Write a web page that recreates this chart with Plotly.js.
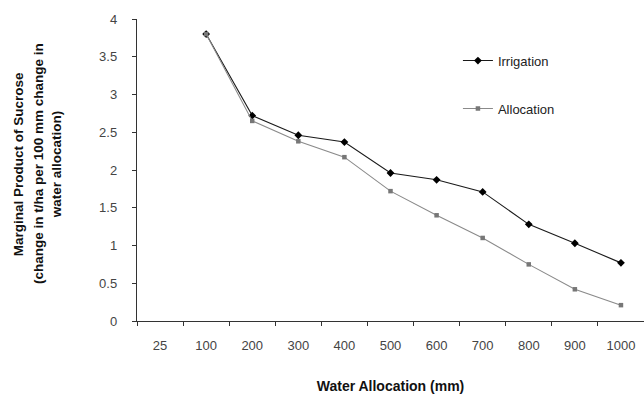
<!DOCTYPE html>
<html>
<head>
<meta charset="utf-8">
<script src="https://cdn.plot.ly/plotly-3.0.1.min.js"></script>
<style>html,body{margin:0;padding:0;background:#fff;}#chart{width:644px;height:401px;}</style>
</head>
<body>
<div id="chart"></div>
<script>
var categories = ["25", "100", "200", "300", "400", "500", "600", "700", "800", "900", "1000"];
var irrigationX = ["100", "200", "300", "400", "500", "600", "700", "800", "900", "1000"];
var irrigation = [3.80, 2.72, 2.46, 2.37, 1.96, 1.87, 1.71, 1.28, 1.03, 0.77];
var allocationX = ["100", "200", "300", "400", "500", "600", "700", "800", "900", "1000"];
var allocation = [3.80, 2.65, 2.38, 2.17, 1.72, 1.40, 1.10, 0.75, 0.42, 0.21];
var yTicks = [0, 0.5, 1, 1.5, 2, 2.5, 3, 3.5, 4];
var yTitleLines = ["Marginal Product of Sucrose", "(change in t/ha per 100 mm change in", "water allocation)"];

var font = "Liberation Sans, Arial, sans-serif";

var traces = [
  {
    x: irrigationX, y: irrigation, name: "Irrigation", type: "scatter", mode: "lines+markers",
    line: {color: "#1a1a1a", width: 1.1},
    marker: {symbol: "diamond", size: 6, color: "#000000"},
    legendgroup: "a"
  },
  {
    x: allocationX, y: allocation, name: "Allocation", type: "scatter", mode: "lines+markers",
    line: {color: "#8a8a8a", width: 1.1},
    marker: {symbol: "square", size: 4.5, color: "#777777"},
    legendgroup: "b"
  }
];

var titleX = [-0.232, -0.193, -0.157];
var annotations = yTitleLines.map(function (t, i) {
  return {
    xref: "paper", yref: "paper",
    x: titleX[i], y: 0.52, xanchor: "center", yanchor: "middle",
    textangle: -90, showarrow: false,
    text: "<b>" + t + "</b>",
    font: {family: font, size: 13.5, color: "#111"}
  };
});

var layout = {
  width: 644, height: 401,
  margin: {l: 137, r: 0, t: 19, b: 80},
  paper_bgcolor: "#ffffff", plot_bgcolor: "#ffffff",
  font: {family: font, size: 12, color: "#333333"},
  showlegend: true,
  legend: {
    x: 0.633, y: 0.912, xanchor: "left", yanchor: "top",
    traceorder: "grouped", tracegroupgap: 28,
    itemwidth: 30,
    font: {family: font, size: 13, color: "#222222"},
    bgcolor: "rgba(0,0,0,0)"
  },
  xaxis: {
    type: "category",
    categoryorder: "array", categoryarray: categories,
    range: [-0.5, 10.5],
    tickmode: "array", tickvals: categories, ticktext: categories,
    tickson: "boundaries",
    ticks: "outside", ticklen: 4, tickcolor: "#333",
    ticklabelstandoff: 12,
    showline: true, linecolor: "#333", linewidth: 1.2,
    showgrid: false, zeroline: false,
    tickfont: {family: font, size: 13, color: "#444"},
    title: {text: "<b>Water Allocation (mm)</b>", font: {family: font, size: 14, color: "#111"}, standoff: 29}
  },
  yaxis: {
    range: [0, 4],
    tickmode: "array", tickvals: yTicks,
    ticks: "outside", ticklen: 4, tickcolor: "#333",
    ticklabelstandoff: 12,
    showline: true, linecolor: "#333", linewidth: 1.2,
    showgrid: false, zeroline: false,
    tickfont: {family: font, size: 13, color: "#444"}
  },
  annotations: annotations
};

Plotly.newPlot("chart", traces, layout, {staticPlot: true, displayModeBar: false});
</script>
</body>
</html>
